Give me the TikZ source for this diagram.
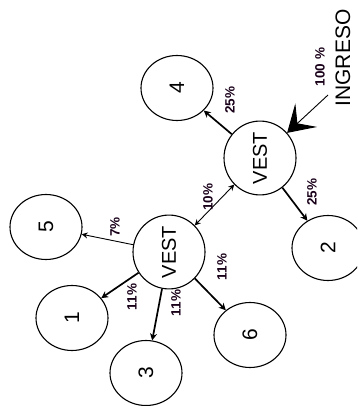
\documentclass[tikz,border=0pt]{standalone}
\usepackage{fontspec}
\setmainfont{Liberation Sans}
\usetikzlibrary{shapes.geometric,arrows.meta}
\begin{document}
\begin{tikzpicture}[x=1pt,y=-1pt,
  circ/.style={draw,ellipse,line width=1.1pt,inner sep=0pt,minimum width=72pt,minimum height=65pt,font=\fontsize{21}{21}\selectfont},
  pct/.style={rotate=90,font=\fontsize{13.5}{13.5}\selectfont\bfseries,text=black!80!violet},
  thin/.style={line width=0.9pt,-{Stealth[length=6pt,width=6pt]}},
  thick/.style={line width=1.7pt,-{Stealth[length=7pt,width=7pt]}}]
\useasboundingbox (0,0) rectangle (357,406);
\clip (0,0) rectangle (357,406);
\node[circ] (n4) at (177,88) {\rotatebox{90}{4}};
\node[circ] (vt) at (260,158) {\rotatebox{90}{\fontsize{20}{20}\selectfont VEST}};
\node[circ] (n2) at (328,248) {\rotatebox{90}{2}};
\node[circ] (n5) at (46,227) {\rotatebox{90}{5}};
\node[circ] (vb) at (169,252) {\rotatebox{90}{\fontsize{20}{20}\selectfont VEST}};
\node[circ] (n1) at (72,318) {\rotatebox{90}{1}};
\node[circ] (n3) at (146,373) {\rotatebox{90}{3}};
\node[circ] (n6) at (250,335) {\rotatebox{90}{6}};
\node[rotate=90,font=\fontsize{21}{21}\selectfont] (ing) at (343,58) {INGRESO};
\coordinate (ingstart) at (328,95);
\node[pct] (l100) at (320,67) {100 \%};
\draw[line width=0.9pt,-{Stealth[length=26pt,width=32pt,inset=12pt]}] (ingstart) -- (vt);
\draw[thick] (vt) -- (n4);
\node[pct] (l25a) at (230,100) {25\%};
\draw[thick] (vt) -- (n2);
\node[pct] (l25b) at (312,192) {25\%};
\draw[line width=0.9pt,{Stealth[length=6pt,width=6pt]}-{Stealth[length=6pt,width=6pt]}] (vt) -- (vb);
\node[pct] (l10) at (208,197) {10\%};
\draw[thin] (vb) -- (n5);
\node[pct] (l7) at (115,227) {7\%};
\draw[thick] (vb) -- (n1);
\node[pct] (l11a) at (132,297) {11\%};
\draw[thick] (vb) -- (n3);
\node[pct] (l11b) at (176,303) {11\%};
\draw[thick] (vb) -- (n6);
\node[pct] (l11c) at (222,267) {11\%};
\end{tikzpicture}
\end{document}
